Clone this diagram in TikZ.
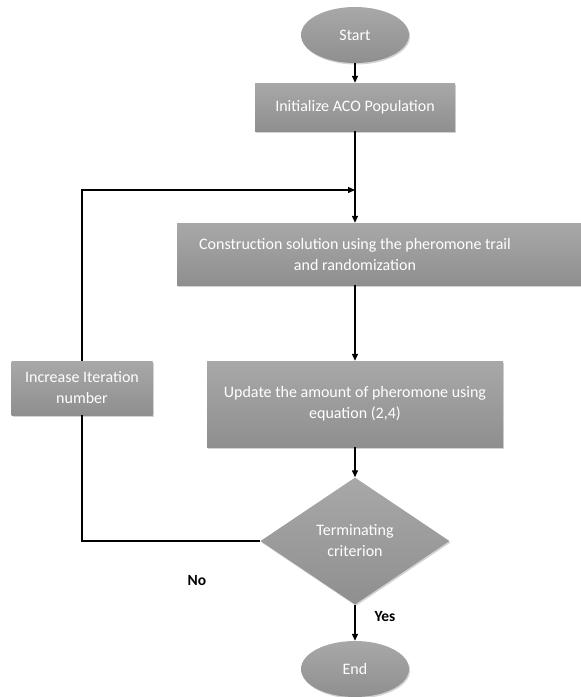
\documentclass[tikz,border=0pt]{standalone}
\usepackage{fontspec}
\setmainfont{Carlito}
\usetikzlibrary{shapes.geometric,arrows.meta,shadows}
\definecolor{boxtop}{HTML}{A8A8A8}
\definecolor{boxbot}{HTML}{8F8F8F}
\tikzset{
  x=1pt,y=-1pt,
  boxbase/.style={top color=boxtop,bottom color=boxbot,draw=none,
    drop shadow={shadow xshift=1pt,shadow yshift=-1.5pt,opacity=0.35},
    text=white,font=\fontsize{16}{21}\selectfont,align=center,inner sep=0pt},
  procbox/.style={boxbase,rectangle},
  termnode/.style={boxbase,ellipse},
  decnode/.style={boxbase,diamond},
  conn/.style={line width=1.3pt,-{Triangle[length=7pt,width=6pt]}},
  plainconn/.style={line width=1.3pt},
  lbl/.style={font=\bfseries\fontsize{15.5}{18}\selectfont,text=black}
}
\begin{document}
\begin{tikzpicture}
\useasboundingbox (0,0) rectangle (581,697);
\node[termnode,minimum width=108pt,minimum height=56pt] (start) at (355,35) {Start};
\node[procbox,minimum width=200pt,minimum height=48pt] (init) at (355,107) {Initialize ACO Population};
\node[procbox,minimum width=404pt,minimum height=62pt] (cons) at (379,254) {};
\node[align=center,text=white,font=\fontsize{16}{21}\selectfont,inner sep=0pt] (constext) at (355,254) {Construction solution using the pheromone trail\\and randomization};
\node[procbox,minimum width=296pt,minimum height=86pt] (upd) at (355,404) {Update the amount of pheromone using\\equation (2,4)};
\node[decnode,minimum width=189pt,minimum height=127pt,aspect=1.49] (dec) at (355,541) {Terminating\\criterion};
\node[termnode,minimum width=108pt,minimum height=56pt] (end) at (355,669) {End};
\node[procbox,minimum width=141pt,minimum height=54pt] (inc) at (82,388) {Increase Iteration\\number};
\coordinate (join) at (355,190);
\coordinate (tl) at (82,190);
\coordinate (bl) at (82,541);
\node[lbl] (no) at (197,581) {No};
\node[lbl] (yes) at (385,617) {Yes};
\draw[conn] (start) -- (init);
\draw[conn] (init.south) -- (init.south |- cons.north);
\draw[conn] (init.south |- cons.south) -- (upd.north);
\draw[conn] (upd) -- (dec);
\draw[conn] (dec) -- (end);
\draw[plainconn] (dec.west) -- (bl) -- (inc.south);
\draw[conn] (inc.north) -- (tl) -- (join);
\end{tikzpicture}
\end{document}
